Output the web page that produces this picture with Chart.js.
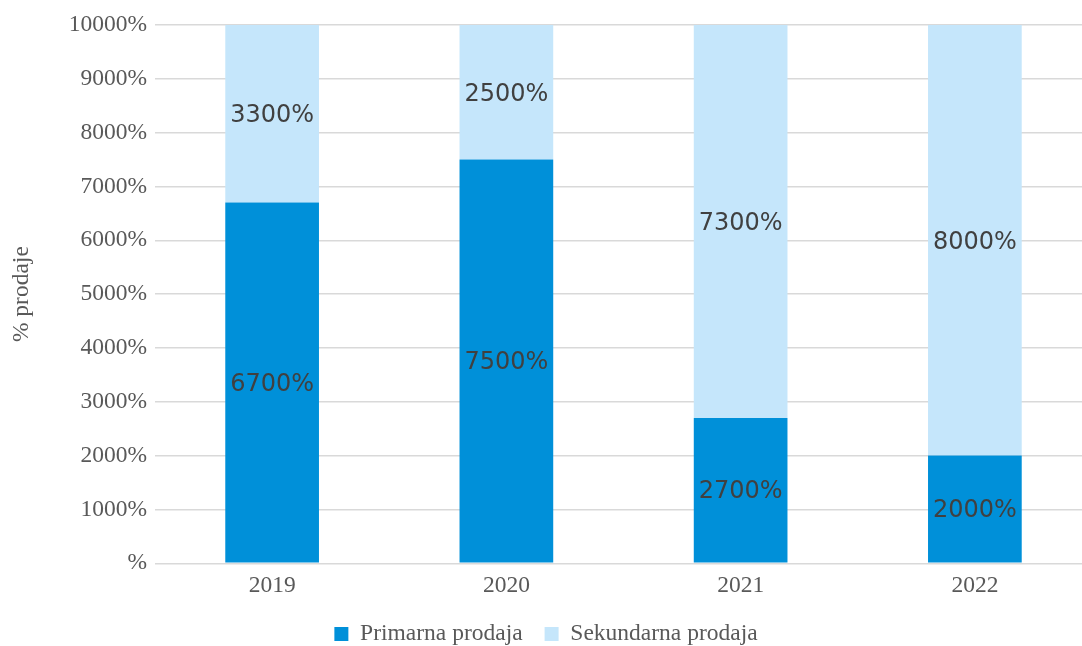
<!DOCTYPE html>
<html>
<head>
<meta charset="utf-8">
<script src="https://cdn.jsdelivr.net/npm/chart.js@4/dist/chart.umd.min.js"></script>
<style>
html, body { margin: 0; padding: 0; background: #fff; overflow: hidden; }
#wrap { width: 1092px; height: 646px; position: relative; }
canvas { display: block; }
</style>
</head>
<body>
<div id="wrap"><canvas id="c" width="1092" height="646" style="width:1092px;height:646px"></canvas></div>
<script>
const categories = ['2019', '2020', '2021', '2022'];
const primarnaProdaja = [67, 75, 27, 20];
const sekundarnaProdaja = [33, 25, 73, 80];
const seriesNames = ['Primarna prodaja', 'Sekundarna prodaja'];
const yTickValues = [0, 10, 20, 30, 40, 50, 60, 70, 80, 90, 100];
const yAxisTitle = '% prodaje';

const fmtPct = v => (v === 0 ? '' : String(Math.round(v * 100))) + '%';

const serif = '"Liberation Serif", "Times New Roman", serif';
const fs = 23.5;

const dataLabelPlugin = {
  id: 'segLabels',
  afterDatasetsDraw(chart) {
    const ctx = chart.ctx;
    ctx.save();
    ctx.font = '24px "DejaVu Sans"';
    ctx.fillStyle = '#404040';
    ctx.textAlign = 'center';
    ctx.textBaseline = 'middle';
    chart.data.datasets.forEach((ds, di) => {
      const meta = chart.getDatasetMeta(di);
      meta.data.forEach((bar, i) => {
        const v = ds.data[i];
        const cy = (bar.y + bar.base) / 2 + 2;
        ctx.fillText(fmtPct(v), bar.x, cy);
      });
    });
    ctx.restore();
  }
};

new Chart(document.getElementById('c'), {
  type: 'bar',
  data: {
    labels: categories,
    datasets: [
      { label: seriesNames[0], data: primarnaProdaja, backgroundColor: '#0090D9', barPercentage: 0.4, categoryPercentage: 1 },
      { label: seriesNames[1], data: sekundarnaProdaja, backgroundColor: '#C5E6FB', barPercentage: 0.4, categoryPercentage: 1 }
    ]
  },
  options: {
    responsive: false,
    animation: false,
    devicePixelRatio: 1,
    layout: { padding: { top: 25, right: 0, bottom: 0, left: 0 } },
    plugins: {
      tooltip: { enabled: false },
      legend: {
        position: 'bottom',
        maxWidth: 1082,
        maxHeight: 45.75,
        labels: {
          font: { family: serif, size: fs },
          color: '#595959',
          boxWidth: 14,
          boxHeight: 14,
          padding: 22
        }
      }
    },
    scales: {
      x: {
        stacked: true,
        grid: { display: false },
        border: { display: false },
        ticks: { font: { family: serif, size: fs }, color: '#595959', padding: 0 },
        afterFit: s => { s.height = 37; }
      },
      y: {
        stacked: true,
        min: 0,
        max: 100,
        afterBuildTicks: s => { s.ticks = yTickValues.map(v => ({ value: v })); },
        grid: { color: '#D9D9D9', lineWidth: 1.5, drawTicks: false },
        border: { display: false },
        ticks: { font: { family: serif, size: fs }, color: '#595959', padding: 8, callback: v => fmtPct(v) },
        title: { display: true, text: yAxisTitle, font: { family: serif, size: fs }, color: '#595959', padding: { top: 8, bottom: 0 } },
        afterFit: s => { s.width = 155; }
      }
    }
  },
  plugins: [dataLabelPlugin]
});
</script>
</body>
</html>
